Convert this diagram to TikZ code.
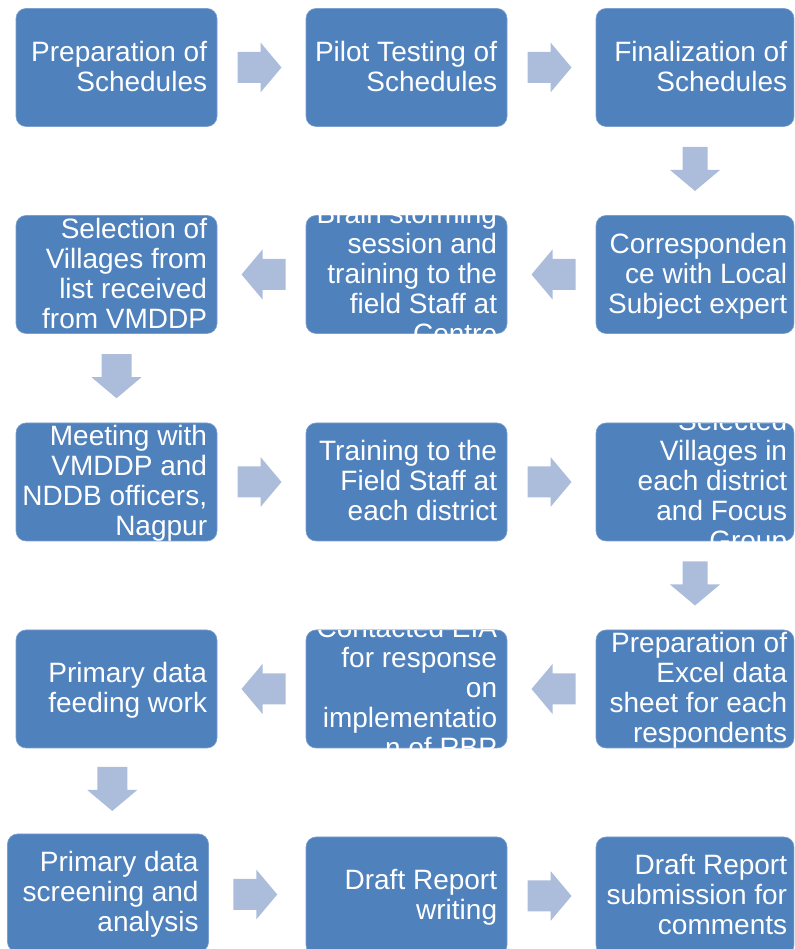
\documentclass[tikz,border=0pt]{standalone}
\usepackage{fontspec}
\newfontfamily\boxfont{Liberation Sans}
\usetikzlibrary{calc}

\definecolor{boxblue}{RGB}{79,129,189}
\definecolor{arrowblue}{RGB}{172,189,220}

\tikzset{
  stepbox/.style={fill=boxblue, draw=boxblue!75!white, line width=0.6pt,
    rounded corners=10pt, minimum width=201pt, minimum height=118pt, inner sep=0pt},
  narrowbox/.style={minimum width=198pt},
  boxtext/.style={anchor=east, align=right, inner sep=0pt, text=white,
    font={\boxfont\fontsize{28}{30}\selectfont}},
  arrowfill/.style={fill=arrowblue}
}

% a process step: rounded box with right-aligned text clipped to the box
% optional argument: extra box style; \textpad is the right text margin
\newcommand\textpad{10}
\newcommand\flowbox[4][]{%
  \node[stepbox,#1] (#2) at (#3) {};
  \begin{scope}
    \clip[rounded corners=10pt] (#2.south west) rectangle (#2.north east);
    \node[boxtext] at ($(#2.east)+(-\textpad,-3)$) {#4};
  \end{scope}}

% block arrow between two anchors: from, to, rotation, half shaft width
\newcommand\flowarrow[4]{%
  \fill[arrowfill, shift={($(#1)!0.5!(#2)$)}, rotate=#3]
    (-24,-#4) -- (-1,-#4) -- (-1,-25) -- (20,0) -- (-1,25) -- (-1,#4) -- (-24,#4) -- cycle;}

\begin{document}
\begin{tikzpicture}[x=1pt,y=1pt]
\useasboundingbox (0,0) rectangle (794,949);
\clip (0,0) rectangle (794,949);

% left and middle columns
\flowbox{p1}{116.5,881.5}{\strut Preparation of\\\strut Schedules}
\flowbox{p2}{406.5,881.5}{\strut Pilot Testing of\\\strut Schedules}
\flowbox{p5}{406.5,674.5}{\strut Brain storming\\\strut session and\\\strut training to the\\\strut field Staff at\\\strut Centre}
\flowbox{p6}{116.5,674.5}{\strut Selection of\\\strut Villages from\\\strut list received\\\strut from VMDDP}
\flowbox{p7}{116.5,467}{\strut Meeting with\\\strut VMDDP and\\\strut NDDB officers,\\\strut Nagpur}
\flowbox{p8}{406.5,467}{\strut Training to the\\\strut Field Staff at\\\strut each district}
\flowbox{p11}{406.5,260}{\strut Contacted EIA\\\strut for response\\\strut on\\\strut implementatio\\\strut n of RBP}
\flowbox{p12}{116.5,260}{\strut Primary data\\\strut feeding work}
\flowbox{p13}{108,56}{\strut Primary data\\\strut screening and\\\strut analysis}
\flowbox{p14}{406.5,53}{\strut Draft Report\\\strut writing}

% right column
\renewcommand\textpad{7}
\flowbox[narrowbox]{p3}{695,881.5}{\strut Finalization of\\\strut Schedules}
\flowbox[narrowbox]{p4}{695,674.5}{\strut Corresponden\\\strut ce with Local\\\strut Subject expert}
\flowbox[narrowbox]{p9}{695,467}{\strut Selected\\\strut Villages in\\\strut each district\\\strut and Focus\\\strut Group}
\flowbox[narrowbox]{p10}{695,260}{\strut Preparation of\\\strut Excel data\\\strut sheet for each\\\strut respondents}
\flowbox[narrowbox]{p15}{695,53}{\strut Draft Report\\\strut submission for\\\strut comments}

% connectors
\flowarrow{p1.east}{p2.west}{0}{15.5}
\flowarrow{p2.east}{p3.west}{0}{15.5}
\flowarrow{p3.south}{p4.north}{-90}{12.5}
\flowarrow{p4.west}{p5.east}{180}{15.5}
\flowarrow{p5.west}{p6.east}{180}{15.5}
\flowarrow{p6.south}{p7.north}{-90}{15}
\flowarrow{p7.east}{p8.west}{0}{15.5}
\flowarrow{p8.east}{p9.west}{0}{15.5}
\flowarrow{p9.south}{p10.north}{-90}{12.5}
\flowarrow{p10.west}{p11.east}{180}{15.5}
\flowarrow{p11.west}{p12.east}{180}{15.5}
\flowarrow{p12.south}{p13.north}{-90}{15}
\flowarrow{p13.east}{p14.west}{0}{15.5}
\flowarrow{p14.east}{p15.west}{0}{15.5}
\end{tikzpicture}
\end{document}
